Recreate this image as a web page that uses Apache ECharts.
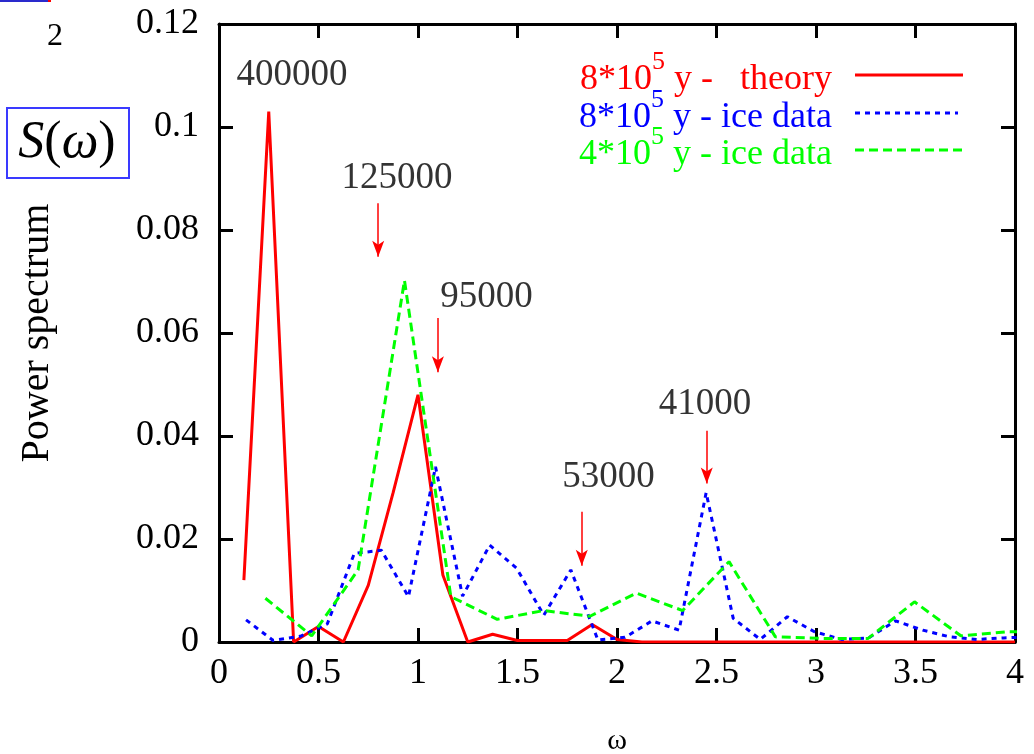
<!DOCTYPE html>
<html>
<head>
<meta charset="utf-8">
<script src="https://cdn.jsdelivr.net/npm/echarts@6/dist/echarts.min.js"></script>
<style>
  html, body { margin: 0; padding: 0; background: #ffffff; }
  #chart { width: 1034px; height: 754px; }
</style>
</head>
<body>
<div id="chart"></div>
<script>
// ---- Data ----
const theoryOmega = [0.125, 0.25, 0.375, 0.5, 0.625, 0.75, 0.875, 1.0, 1.125, 1.25, 1.375, 1.5, 1.625, 1.75, 1.875, 2.0,
  2.125, 2.25, 2.375, 2.5, 2.625, 2.75, 2.875, 3.0, 3.125, 3.25, 3.375, 3.5, 3.625, 3.75, 3.875, 4.0];
const theoryPower = [0.012, 0.103, 0.0, 0.003, 0.0, 0.011, 0.029, 0.048, 0.013, 0.0, 0.0015, 0.0003, 0.0003, 0.0003, 0.0034, 0.0005,
  0, 0, 0, 0, 0, 0, 0, 0, 0, 0, 0, 0, 0, 0, 0, 0];

const ice800Omega = [0.136, 0.272, 0.408, 0.544, 0.68, 0.816, 0.952, 1.088, 1.224, 1.36, 1.496, 1.632, 1.768, 1.904, 2.04,
  2.176, 2.312, 2.448, 2.584, 2.72, 2.856, 2.992, 3.128, 3.264, 3.4, 3.536, 3.672, 3.808, 3.944, 4.08];
const ice800Power = [0.0043, 0.0003, 0.0011, 0.0035, 0.0172, 0.0178, 0.0088, 0.034, 0.0089, 0.0188, 0.0143, 0.0052, 0.014, 0.0004, 0.0009,
  0.0041, 0.0023, 0.029, 0.0046, 0.0005, 0.0049, 0.002, 0.0005, 0.0008, 0.0041, 0.0023, 0.001, 0.0005, 0.0008, 0.001];

const ice400Omega = [0.233, 0.466, 0.699, 0.932, 1.165, 1.398, 1.631, 1.864, 2.097, 2.33, 2.563, 2.796, 3.029, 3.262, 3.495, 3.728, 3.961, 4.194];
const ice400Power = [0.0085, 0.0012, 0.014, 0.0702, 0.0088, 0.0044, 0.0061, 0.005, 0.0095, 0.0061, 0.0156, 0.001, 0.0007, 0.0007, 0.0078, 0.0012, 0.002, 0.0019];

const seriesNames = ['8*10^5 y - theory', '8*10^5 y - ice data', '4*10^5 y - ice data'];

// period annotations
const periodLabels = ['400000', '125000', '95000', '53000', '41000'];
const periodLabelOmega = [0.367, 0.894, 1.344, 1.957, 2.442];
const periodLabelPower = [0.110, 0.0901, 0.0669, 0.0319, 0.0462];

const arrowOmega = [0.800, 1.100, 1.823, 2.451];
const arrowTop = [0.0852, 0.0629, 0.0253, 0.0410];
const arrowTip = [0.0748, 0.0524, 0.0148, 0.0308];

const xTicks = { min: 0, max: 4, interval: 0.5 };
const yTicks = { min: 0, max: 0.12, interval: 0.02 };

// ---- Chart ----
const SERIF = 'Liberation Serif';
const RED = '#ff0000', BLUE = '#0000ff', GREEN = '#00ff00';

const pairs = (xs, ys) => xs.map((x, i) => [x, ys[i]]);

const axisCommon = {
  type: 'value',
  axisLine: { show: true, onZero: false, lineStyle: { color: '#000', width: 3 } },
  axisTick: { show: true, inside: true, length: 14, lineStyle: { color: '#000', width: 3 } },
  splitLine: { show: false }
};

const chart = echarts.init(document.getElementById('chart'), null, { renderer: 'canvas' });

function legendText(prefix, rest) {
  return '{a|' + prefix + '}{s|5}{a|' + rest + '}';
}
function legendRich(color) {
  return {
    a: { fontSize: 36, fontFamily: SERIF, fill: color, color: color },
    s: { fontSize: 26, fontFamily: SERIF, fill: color, color: color, padding: [0, 0, 36, 0] }
  };
}

const option = {
  backgroundColor: '#ffffff',
  animation: false,
  textStyle: { fontFamily: SERIF },
  grid: { left: 219, right: 19, top: 24, bottom: 112, containLabel: false, outerBoundsMode: 'none' },
  xAxis: [
    Object.assign({}, axisCommon, {
      position: 'bottom', min: xTicks.min, max: xTicks.max, interval: xTicks.interval,
      axisLabel: { fontSize: 36, fontFamily: SERIF, color: '#000', margin: 14 },
      name: 'ω', nameLocation: 'middle', nameGap: 84,
      nameTextStyle: { fontSize: 30, fontFamily: SERIF, color: '#000' }
    }),
    Object.assign({}, axisCommon, {
      position: 'top', min: xTicks.min, max: xTicks.max, interval: xTicks.interval,
      axisLabel: { show: false }
    })
  ],
  yAxis: [
    Object.assign({}, axisCommon, {
      position: 'left', min: yTicks.min, max: yTicks.max, interval: yTicks.interval,
      axisLabel: { fontSize: 36, fontFamily: SERIF, color: '#000', margin: 20 },
      name: 'Power spectrum', nameLocation: 'middle', nameGap: 162, nameRotate: 90,
      nameTextStyle: { fontSize: 40, fontFamily: SERIF, color: '#000' }
    }),
    Object.assign({}, axisCommon, {
      position: 'right', min: yTicks.min, max: yTicks.max, interval: yTicks.interval,
      axisLabel: { show: false }
    })
  ],
  series: [
    {
      name: seriesNames[0], type: 'line', xAxisIndex: 0, yAxisIndex: 0,
      data: pairs(theoryOmega, theoryPower),
      showSymbol: false, symbol: 'none', clip: true, z: 3,
      lineStyle: { color: RED, width: 3, type: 'solid' }
    },
    {
      name: seriesNames[1], type: 'line', xAxisIndex: 0, yAxisIndex: 0,
      data: pairs(ice800Omega, ice800Power),
      showSymbol: false, symbol: 'none', clip: true, z: 4,
      lineStyle: { color: BLUE, width: 3, type: [5, 5] }
    },
    {
      name: seriesNames[2], type: 'line', xAxisIndex: 0, yAxisIndex: 0,
      data: pairs(ice400Omega, ice400Power),
      showSymbol: false, symbol: 'none', clip: true, z: 5,
      lineStyle: { color: GREEN, width: 3, type: [9, 5] }
    },
    {
      name: 'annotations', type: 'scatter', xAxisIndex: 0, yAxisIndex: 0,
      data: periodLabels.map((t, i) => [periodLabelOmega[i], periodLabelPower[i], t]),
      symbolSize: 0, silent: true, z: 6,
      label: {
        show: true, position: 'inside', formatter: p => p.data[2],
        fontSize: 37, fontFamily: SERIF, color: '#000', textBorderWidth: 0
      },
      markLine: {
        silent: true, animation: false,
        symbol: ['none', 'arrow'], symbolSize: [9, 16],
        lineStyle: { color: RED, width: 1.5, type: 'solid' },
        label: { show: false },
        data: arrowOmega.map((w, i) => [
          { coord: [w, arrowTop[i]] },
          { coord: [w, arrowTip[i]] }
        ])
      }
    }
  ],
  graphic: [
    // small artifact at the top-left corner
    { type: 'rect', shape: { x: 0, y: 0, width: 48, height: 2 }, style: { fill: '#2a2acc' } },
    { type: 'rect', shape: { x: 48, y: 0, width: 3, height: 2 }, style: { fill: RED } },
    // "2"
    { type: 'text', x: 55, y: 37, style: { text: '2', fontSize: 32, fontFamily: SERIF, fill: '#000', align: 'center', verticalAlign: 'middle' } },
    // S(omega) box
    { type: 'rect', shape: { x: 7, y: 108, width: 122, height: 70 }, style: { fill: 'none', stroke: '#3a3aff', lineWidth: 2 } },
    { type: 'text', x: 67, y: 143, style: {
        text: '{i|S}{n|(}{i|ω}{n|)}', align: 'center', verticalAlign: 'middle',
        rich: {
          i: { fontSize: 52, fontFamily: SERIF, fontStyle: 'italic', fill: '#000' },
          n: { fontSize: 52, fontFamily: SERIF, fill: '#000' }
        }
      } },
    // legend texts
    { type: 'text', x: 832, y: 80, style: { text: legendText('8*10', ' y -   theory'), align: 'right', verticalAlign: 'middle', rich: legendRich(RED) } },
    { type: 'text', x: 832, y: 118, style: { text: legendText('8*10', ' y - ice data'), align: 'right', verticalAlign: 'middle', rich: legendRich(BLUE) } },
    { type: 'text', x: 832, y: 155, style: { text: legendText('4*10', ' y - ice data'), align: 'right', verticalAlign: 'middle', rich: legendRich(GREEN) } },
    // legend samples
    { type: 'line', shape: { x1: 855, y1: 75, x2: 963, y2: 75 }, style: { stroke: RED, lineWidth: 3 } },
    { type: 'line', shape: { x1: 855, y1: 113, x2: 958, y2: 113 }, style: { stroke: BLUE, lineWidth: 3, lineDash: [5, 5] } },
    { type: 'line', shape: { x1: 855, y1: 150, x2: 963, y2: 150 }, style: { stroke: GREEN, lineWidth: 3, lineDash: [9, 5] } }
  ]
};

chart.setOption(option);
</script>
</body>
</html>
